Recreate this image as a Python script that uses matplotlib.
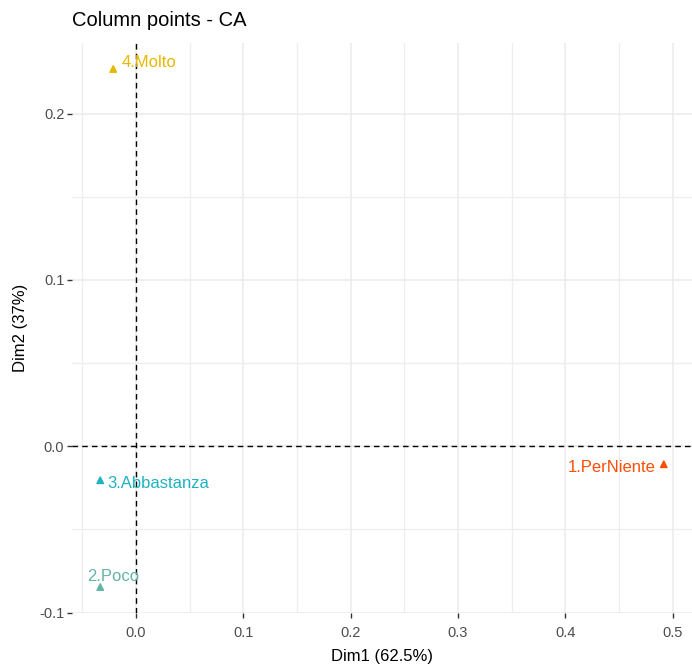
import numpy as np
import matplotlib
matplotlib.use("Agg")
import matplotlib.pyplot as plt

plt.rcParams['font.family'] = ['Liberation Sans', 'DejaVu Sans']

# column coordinates from the CA
labels = ['1.PerNiente', '2.Poco', '3.Abbastanza', '4.Molto']
dim1 = [0.4917, -0.0334, -0.0334, -0.0213]
dim2 = [-0.0108, -0.0846, -0.0204, 0.2268]
colors = ['#FC4E07', '#62B5A4', '#1FB2C0', '#E7B800']

# label offsets in points, and alignment
offsets = [(-5.8, -2.2), (-9.4, 7.9), (5.0, -2.2), (5.8, 4.3)]
aligns = ['right', 'left', 'left', 'left']

fig = plt.figure(figsize=(6.92, 6.66), dpi=100)
ax = fig.add_axes([72 / 692, 53 / 666, 620 / 692, 570 / 666])

ax.set_xlim(-0.0597, 0.518)
ax.set_ylim(-0.1002, 0.2424)

ax.set_xticks(np.arange(0, 0.51, 0.1))
ax.set_yticks([-0.1, 0.0, 0.1, 0.2])
ax.set_xticks(np.arange(-0.05, 0.52, 0.1), minor=True)
ax.set_yticks([-0.05, 0.05, 0.15], minor=True)
ax.set_xticklabels(['0.0', '0.1', '0.2', '0.3', '0.4', '0.5'])
ax.set_yticklabels(['-0.1', '0.0', '0.1', '0.2'])

ax.grid(which='major', color='#EBEBEB', linewidth=1.1)
ax.grid(which='minor', color='#EEEEEE', linewidth=0.9)
ax.set_axisbelow(True)
for s in ax.spines.values():
    s.set_visible(False)
ax.tick_params(which='major', length=3.5, width=1, color='#333333',
               labelsize=10.5, labelcolor='#4D4D4D')
ax.tick_params(axis='x', which='major', pad=6)
ax.tick_params(axis='y', which='major', pad=2)
ax.tick_params(which='minor', length=0)

ax.axhline(0, color='black', linestyle=(0, (4, 3)), linewidth=1)
ax.axvline(0, color='black', linestyle=(0, (4, 3)), linewidth=1)

ax.scatter(dim1, dim2, marker='^', s=22, c=colors, zorder=3)
for i in range(len(labels)):
    ax.annotate(labels[i], xy=(dim1[i], dim2[i]), xytext=offsets[i],
                textcoords='offset points', ha=aligns[i], va='center',
                color=colors[i], fontsize=12)

ax.set_xlabel('Dim1 (62.5%)', fontsize=12, labelpad=6)
ax.set_ylabel('Dim2 (37%)', fontsize=12, labelpad=8)
ax.set_title('Column points - CA', loc='left', fontsize=14.5, pad=12)

fig.savefig('out.png', dpi=100)
